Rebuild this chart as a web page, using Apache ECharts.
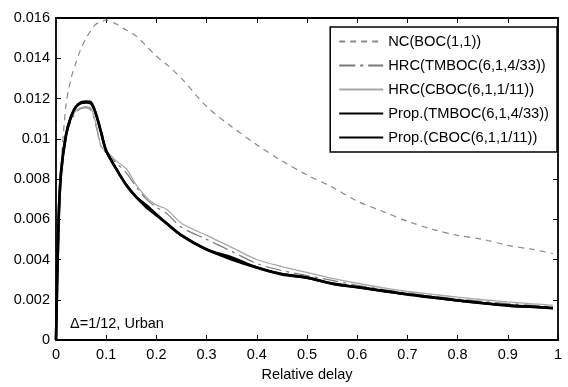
<!DOCTYPE html>
<html>
<head>
<meta charset="utf-8">
<script src="https://cdn.jsdelivr.net/npm/echarts@6/dist/echarts.min.js"></script>
<style>
  html, body { margin: 0; padding: 0; background: #fff; }
  #chart { width: 568px; height: 387px; }
</style>
</head>
<body>
<div id="chart"></div>
<script>
// Relative delay samples (shared by every curve)
const delay = [0, 0.005, 0.01, 0.02, 0.03, 0.04, 0.05, 0.06, 0.07, 0.08, 0.09, 0.1,
  0.12, 0.14, 0.16, 0.18, 0.2, 0.22, 0.25, 0.3, 0.35, 0.4, 0.45, 0.5, 0.55, 0.6,
  0.65, 0.7, 0.75, 0.8, 0.85, 0.9, 0.95, 0.99];

const ncBoc = [0, 0.0045, 0.0085, 0.0117, 0.0130, 0.0138, 0.0145, 0.0150, 0.0154, 0.0157, 0.0158, 0.0159,
  0.0157, 0.0154, 0.0151, 0.0146, 0.0141, 0.0137, 0.0130, 0.0116, 0.0106, 0.0097, 0.0089, 0.0082, 0.0076, 0.0069,
  0.0064, 0.0059, 0.0055, 0.0052, 0.0050, 0.0047, 0.0045, 0.0043];

const hrcTmboc = [0, 0.0055, 0.0082, 0.0101, 0.0109, 0.0113, 0.01150, 0.01155, 0.0114, 0.0106, 0.0096, 0.0093,
  0.0088, 0.0083, 0.0076, 0.0070, 0.0066, 0.0063, 0.0056, 0.0050, 0.0044, 0.0038, 0.00345, 0.00320, 0.00296, 0.00272,
  0.00252, 0.00234, 0.00218, 0.00204, 0.00192, 0.00181, 0.00172, 0.00165];

const hrcCboc = [0, 0.0055, 0.0083, 0.0102, 0.0110, 0.0114, 0.01155, 0.0116, 0.0115, 0.0107, 0.0096, 0.0094,
  0.0089, 0.0085, 0.0077, 0.0071, 0.0067, 0.0065, 0.0058, 0.0052, 0.0046, 0.0040, 0.00365, 0.00336, 0.00306, 0.00282,
  0.00260, 0.00241, 0.00227, 0.00213, 0.00200, 0.00189, 0.00180, 0.00172];

const propTmboc = [0, 0.0058, 0.0083, 0.0102, 0.0111, 0.0116, 0.0118, 0.01185, 0.0118, 0.0112, 0.0103, 0.0094,
  0.0085, 0.0077, 0.0071, 0.0067, 0.00624, 0.0058, 0.0052, 0.0045, 0.0041, 0.0036, 0.00328, 0.0031, 0.0028, 0.00263,
  0.00245, 0.00227, 0.00212, 0.00197, 0.00184, 0.00172, 0.00165, 0.00159];

const propCboc = [0, 0.0058, 0.0083, 0.0102, 0.0111, 0.0116, 0.01178, 0.0118, 0.01175, 0.0112, 0.0103, 0.0094,
  0.0085, 0.0077, 0.0071, 0.0066, 0.0062, 0.0058, 0.0052, 0.0045, 0.0040, 0.0036, 0.00326, 0.0031, 0.0028, 0.00262,
  0.00244, 0.00226, 0.00211, 0.00196, 0.00183, 0.00171, 0.00164, 0.00158];

const seriesNames = ['NC(BOC(1,1))', 'HRC(TMBOC(6,1,4/33))', 'HRC(CBOC(6,1,1/11))',
  'Prop.(TMBOC(6,1,4/33))', 'Prop.(CBOC(6,1,1/11))'];

const xTicks = [0, 0.1, 0.2, 0.3, 0.4, 0.5, 0.6, 0.7, 0.8, 0.9, 1];
const yTicks = [0, 0.002, 0.004, 0.006, 0.008, 0.01, 0.012, 0.014, 0.016];

const FONT = 'Liberation Sans, Arial, Helvetica, sans-serif';

function pairs(values) {
  return delay.map((d, i) => [d, values[i]]);
}

const styles = [
  { color: '#8a8a8a', width: 1.2, type: [6, 5] },
  { color: '#7a7a7a', width: 1.2, type: [16, 5, 3, 5] },
  { color: '#a8a8a8', width: 1.3, type: 'solid' },
  { color: '#000000', width: 2.6, type: 'solid' },
  { color: '#000000', width: 2.6, type: 'solid' }
];
const values = [ncBoc, hrcTmboc, hrcCboc, propTmboc, propCboc];

const chart = echarts.init(document.getElementById('chart'), null, { renderer: 'canvas' });

const baseAxis = {
  axisLine: { show: true, onZero: false, lineStyle: { color: '#000', width: 1.8 } },
  axisTick: { show: true, inside: true, length: 5, lineStyle: { color: '#000', width: 1 } },
  splitLine: { show: false }
};

chart.setOption({
  animation: false,
  backgroundColor: '#fff',
  grid: { left: 56, right: 10, top: 18, bottom: 44 },
  xAxis: [
    Object.assign({}, baseAxis, {
      type: 'value', min: xTicks[0], max: xTicks[xTicks.length - 1], interval: 0.1,
      position: 'bottom',
      name: 'Relative delay', nameLocation: 'middle', nameGap: 27,
      nameTextStyle: { fontFamily: FONT, fontSize: 14.5, color: '#000' },
      axisLabel: { fontFamily: FONT, fontSize: 14.5, color: '#000', margin: 7,
        formatter: v => String(Math.round(v * 10) / 10) }
    }),
    Object.assign({}, baseAxis, {
      type: 'value', min: xTicks[0], max: xTicks[xTicks.length - 1], interval: 0.1,
      position: 'top', axisLabel: { show: false }
    })
  ],
  yAxis: [
    Object.assign({}, baseAxis, {
      type: 'value', min: yTicks[0], max: yTicks[yTicks.length - 1], interval: 0.002,
      position: 'left',
      axisLabel: { fontFamily: FONT, fontSize: 14.5, color: '#000', margin: 6,
        formatter: v => String(Math.round(v * 1000) / 1000) }
    }),
    Object.assign({}, baseAxis, {
      type: 'value', min: yTicks[0], max: yTicks[yTicks.length - 1], interval: 0.002,
      position: 'right', axisLabel: { show: false }
    })
  ],
  legend: {
    orient: 'vertical',
    right: 11,
    top: 27,
    padding: [7, 8, 7, 8],
    itemWidth: 44,
    itemHeight: 14,
    itemGap: 9,
    borderColor: '#000',
    borderWidth: 1.5,
    borderRadius: 0,
    backgroundColor: '#fff',
    data: seriesNames,
    itemStyle: { opacity: 0 },
    textStyle: { fontFamily: FONT, fontSize: 14.7, color: '#000' }
  },
  graphic: [{
    type: 'text',
    left: 70,
    top: 316,
    style: { text: 'Δ=1/12, Urban', fontFamily: FONT, fontSize: 14.5, fill: '#000' }
  }],
  series: seriesNames.map((name, i) => ({
    name: name,
    type: 'line',
    xAxisIndex: 0,
    yAxisIndex: 0,
    data: pairs(values[i]),
    symbol: 'none',
    smooth: 0.3,
    z: 2 + i,
    itemStyle: { color: styles[i].color },
    lineStyle: { color: styles[i].color, width: styles[i].width, type: styles[i].type }
  }))
});
</script>
</body>
</html>
